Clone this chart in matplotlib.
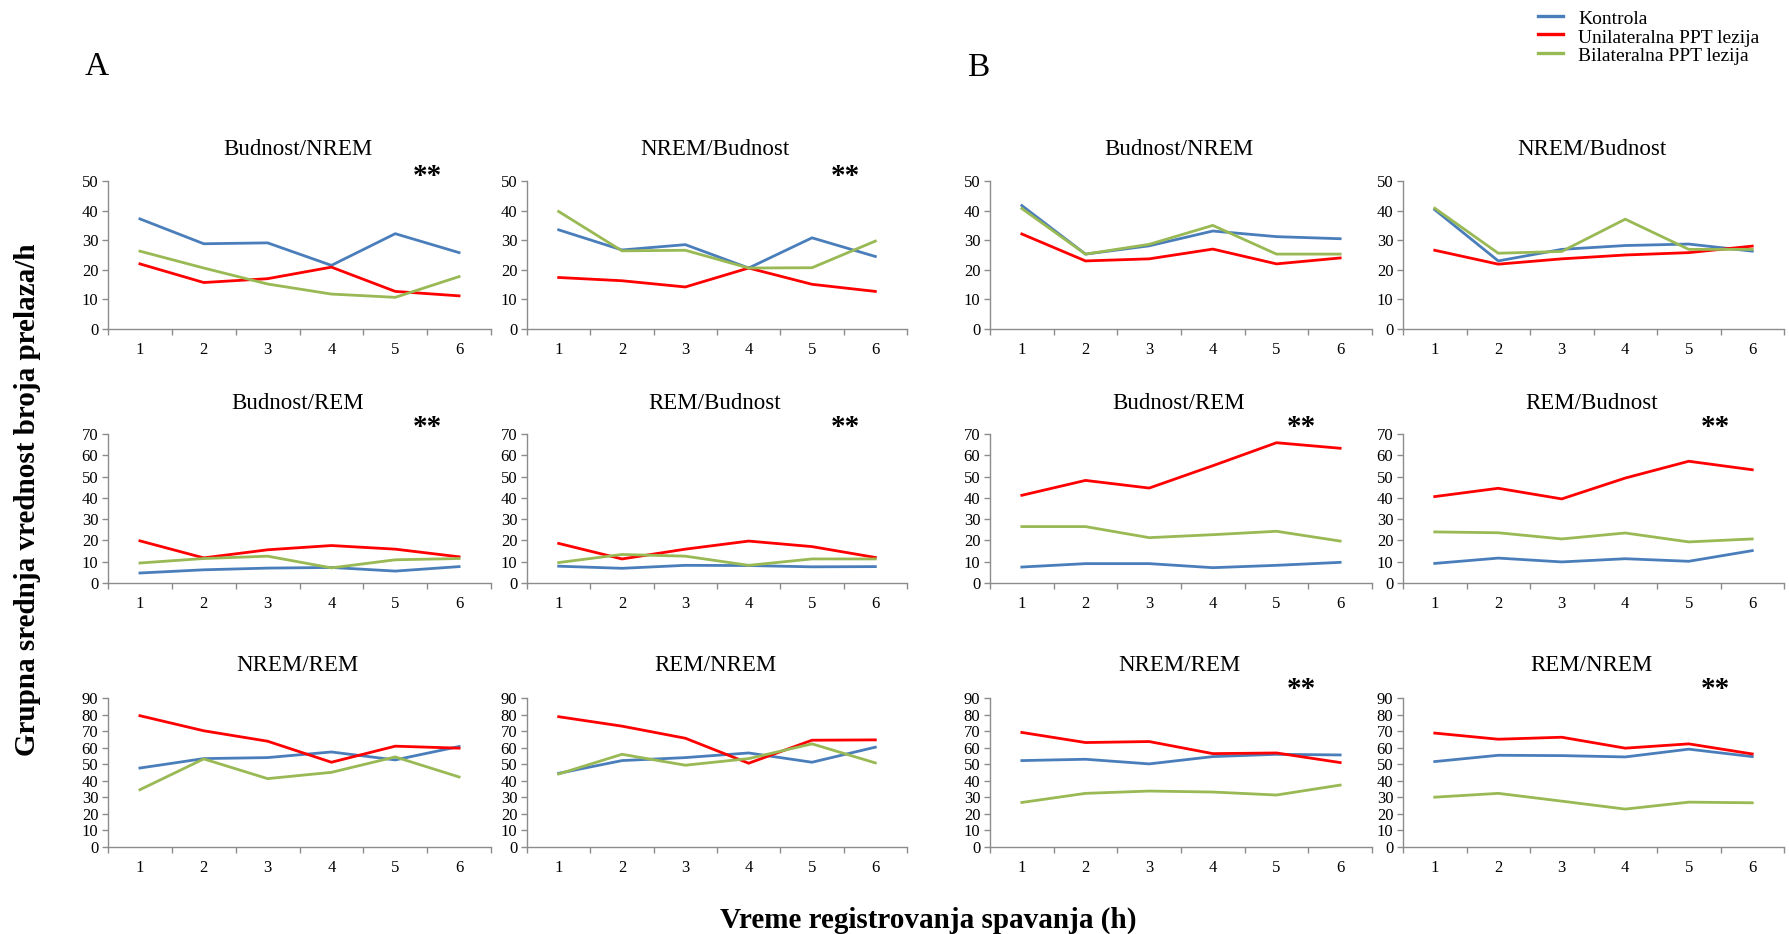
import matplotlib
matplotlib.use("Agg")
import matplotlib.pyplot as plt
from matplotlib.lines import Line2D
from matplotlib.ticker import FixedLocator

plt.rcParams['font.family'] = ['Liberation Serif', 'DejaVu Serif']

# ---------------- data ----------------
hours = [1, 2, 3, 4, 5, 6]
series_names = ["Kontrola", "Unilateralna PPT lezija", "Bilateralna PPT lezija"]
series_colors = ["#4A7EBB", "#FF0000", "#98B954"]

panel_titles = [["Budnost/NREM", "NREM/Budnost", "Budnost/NREM", "NREM/Budnost"],
                ["Budnost/REM", "REM/Budnost", "Budnost/REM", "REM/Budnost"],
                ["NREM/REM", "REM/NREM", "NREM/REM", "REM/NREM"]]
row_ymax = [50, 70, 90]

# A: Budnost/NREM
A1_kontrola = [37.2, 28.8, 29.1, 21.5, 32.2, 25.8]
A1_uni      = [22.0, 15.7, 17.0, 20.9, 12.7, 11.2]
A1_bi       = [26.3, 20.6, 15.2, 11.8, 10.7, 17.7]
# A: NREM/Budnost
A2_kontrola = [33.5, 26.7, 28.5, 20.6, 30.8, 24.5]
A2_uni      = [17.4, 16.3, 14.2, 20.6, 15.1, 12.7]
A2_bi       = [39.7, 26.4, 26.6, 20.6, 20.7, 29.7]
# B: Budnost/NREM
B1_kontrola = [41.7, 25.3, 28.1, 33.1, 31.2, 30.5]
B1_uni      = [32.1, 23.0, 23.7, 27.0, 22.0, 24.0]
B1_bi       = [40.7, 25.3, 28.6, 35.0, 25.3, 25.3]
# B: NREM/Budnost
B2_kontrola = [40.3, 23.0, 26.9, 28.2, 28.7, 26.3]
B2_uni      = [26.6, 21.9, 23.7, 25.0, 25.8, 28.0]
B2_bi       = [40.8, 25.6, 26.2, 37.1, 26.9, 26.9]
# A: Budnost/REM
A3_kontrola = [4.7, 6.2, 7.0, 7.3, 5.6, 7.7]
A3_uni      = [19.8, 11.8, 15.6, 17.6, 15.9, 12.3]
A3_bi       = [9.4, 11.5, 12.6, 7.1, 10.9, 11.5]
# A: REM/Budnost
A4_kontrola = [7.9, 6.9, 8.3, 8.2, 7.6, 7.7]
A4_uni      = [18.6, 11.3, 15.9, 19.7, 17.1, 12.0]
A4_bi       = [9.6, 13.4, 12.6, 8.3, 11.3, 11.3]
# B: Budnost/REM
B3_kontrola = [7.5, 9.1, 9.1, 7.2, 8.3, 9.7]
B3_uni      = [41.2, 48.2, 44.6, 55.1, 65.9, 63.3]
B3_bi       = [26.5, 26.5, 21.3, 22.7, 24.3, 19.7]
# B: REM/Budnost
B4_kontrola = [9.2, 11.7, 9.9, 11.4, 10.2, 15.2]
B4_uni      = [40.6, 44.5, 39.5, 49.3, 57.2, 53.2]
B4_bi       = [24.0, 23.6, 20.7, 23.5, 19.3, 20.7]
# A: NREM/REM
A5_kontrola = [47.7, 53.4, 54.0, 57.4, 52.6, 60.7]
A5_uni      = [79.3, 70.2, 63.9, 51.2, 60.9, 59.7]
A5_bi       = [34.6, 53.2, 41.3, 45.1, 54.4, 42.3]
# A: REM/NREM
A6_kontrola = [44.5, 52.2, 54.0, 56.8, 51.2, 60.3]
A6_uni      = [78.7, 73.0, 65.7, 50.6, 64.5, 64.7]
A6_bi       = [44.1, 56.0, 49.4, 53.4, 62.3, 50.8]
# B: NREM/REM
B5_kontrola = [52.2, 53.0, 50.2, 54.6, 56.0, 55.6]
B5_uni      = [69.2, 63.1, 63.7, 56.4, 56.8, 51.0]
B5_bi       = [26.9, 32.4, 33.8, 33.2, 31.4, 37.4]
# B: REM/NREM
B6_kontrola = [51.6, 55.4, 55.2, 54.4, 59.1, 54.6]
B6_uni      = [68.8, 65.1, 66.3, 59.7, 62.3, 56.2]
B6_bi       = [30.1, 32.4, 27.7, 22.9, 27.1, 26.7]

panel_data = [
    [(A1_kontrola, A1_uni, A1_bi), (A2_kontrola, A2_uni, A2_bi),
     (B1_kontrola, B1_uni, B1_bi), (B2_kontrola, B2_uni, B2_bi)],
    [(A3_kontrola, A3_uni, A3_bi), (A4_kontrola, A4_uni, A4_bi),
     (B3_kontrola, B3_uni, B3_bi), (B4_kontrola, B4_uni, B4_bi)],
    [(A5_kontrola, A5_uni, A5_bi), (A6_kontrola, A6_uni, A6_bi),
     (B5_kontrola, B5_uni, B5_bi), (B6_kontrola, B6_uni, B6_bi)],
]
# significance markers (row, col)
stars = {(0, 0), (0, 1), (1, 0), (1, 1), (1, 2), (1, 3), (2, 2), (2, 3)}

# ---------------- layout (pixels) ----------------
W, H = 1789, 934
fig = plt.figure(figsize=(W / 100, H / 100), dpi=100)

rows_y = [(181, 329), (434, 583), (698, 847)]
cols_x = [(108, 491), (527, 907), (990, 1372), (1403, 1784)]
title_base = [155, 409, 671]
star_base = [184, 435, 697]
star_x = [427, 845, 1301, 1715]
spine_col = "#8C8C8C"


def fx(px):
    return px / W


def fy(py):
    return 1 - py / H


for r in range(3):
    for c in range(4):
        x0, x1 = cols_x[c]
        y0, y1 = rows_y[r]
        ax = fig.add_axes([fx(x0), fy(y1), (x1 - x0) / W, (y1 - y0) / H])
        for s, (vals, col) in enumerate(zip(panel_data[r][c], series_colors)):
            ax.plot(hours, vals, color=col, lw=2.0, label=series_names[s],
                    solid_joinstyle='miter')
        ymax = row_ymax[r]
        ax.set_xlim(0.5, 6.5)
        ax.set_ylim(0, ymax)
        ax.set_yticks(range(0, ymax + 1, 10))
        ax.set_xticks(hours)
        ax.xaxis.set_minor_locator(FixedLocator([0.5 + i for i in range(7)]))
        for sp in ("top", "right"):
            ax.spines[sp].set_visible(False)
        for sp in ("left", "bottom"):
            ax.spines[sp].set_color(spine_col)
            ax.spines[sp].set_linewidth(1.0)
        ax.tick_params(axis='x', which='major', length=0, pad=9, labelsize=12)
        ax.tick_params(axis='x', which='minor', length=4, direction='out',
                       color=spine_col, width=1.0)
        ax.tick_params(axis='y', which='major', length=4, direction='out',
                       color=spine_col, width=1.0, pad=3, labelsize=12)
        ax.set_facecolor('none')
        fig.text(fx((x0 + x1) / 2 - 2), fy(title_base[r]), panel_titles[r][c],
                 ha='center', va='baseline', fontsize=16.5)
        if (r, c) in stars:
            fig.text(fx(star_x[c]), fy(star_base[r]), "**", ha='center',
                     va='baseline', fontsize=21, fontweight='bold')

# panel letters
fig.text(fx(97), fy(75), "A", ha='center', va='baseline', fontsize=24)
fig.text(fx(978), fy(76), "B", ha='center', va='baseline', fontsize=24)

# legend (manual)
leg_line_y = [16, 34, 53]
leg_text_base = [24, 43, 61]
for name, col, ly, tb in zip(series_names, series_colors, leg_line_y, leg_text_base):
    fig.add_artist(Line2D([fx(1538), fx(1563)], [fy(ly), fy(ly)], color=col, lw=2.4))
    fig.text(fx(1578), fy(tb), name, ha='left', va='baseline', fontsize=14)

# axis labels
fig.text(fx(928), fy(920), "Vreme registrovanja spavanja (h)", ha='center',
         va='center', fontsize=21, fontweight='bold')
fig.text(fx(28), fy(500), "Grupna srednja vrednost broja prelaza/h", ha='center',
         va='center', rotation=90, fontsize=21, fontweight='bold')

fig.savefig("out.png", dpi=100, facecolor='white')
